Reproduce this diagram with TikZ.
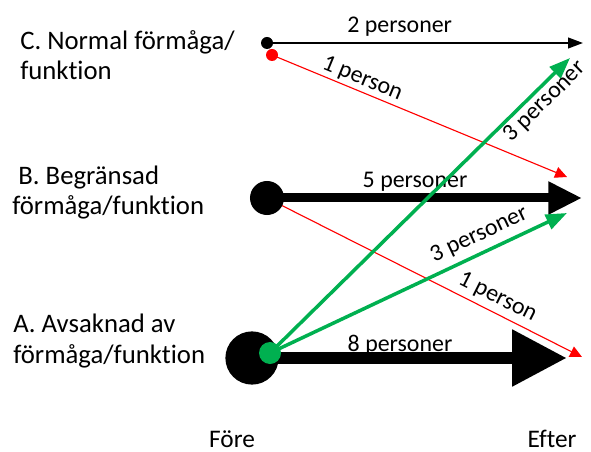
\documentclass[tikz,border=0pt]{standalone}
\usepackage{fontspec}
\setmainfont{Carlito}[Ligatures={NoCommon}]
\usetikzlibrary{arrows.meta}

\definecolor{ogreen}{RGB}{0,176,80}

\tikzset{
  lab/.style={font=\fontsize{19}{22}\selectfont, align=left, anchor=base west, inner sep=0pt},
  cnt/.style={font=\fontsize{17}{20}\selectfont, text=black, inner sep=1.5pt},
  dot/.style={circle, fill, inner sep=0pt},
}

\begin{document}
\begin{tikzpicture}[x=0.025cm, y=-0.025cm]
\useasboundingbox (0,0) rectangle (591,452);
% start points (Före)
\coordinate (c0) at (267,43);
\coordinate (r0) at (272,55);
\coordinate (b0) at (267,198);
\coordinate (a0) at (252,358);
\coordinate (g0) at (270,353);
% end points (Efter)
\coordinate (c1) at (583,43);
\coordinate (cr1) at (567,177);
\coordinate (b1) at (582,198);
\coordinate (br1) at (582,357);
\coordinate (a1) at (567,358);
\coordinate (gc1) at (570,58);
\coordinate (gb1) at (567,213);

\draw[line width=1.4pt, -{Triangle[length=10.5pt,width=7.5pt]}] (c0) -- node[cnt, anchor=base, pos=0.42, yshift=7.8pt] {2 personer} (c1);
\draw[line width=6.4pt, -{Triangle[length=24pt,width=22pt]}] (b0) -- node[cnt, anchor=base, pos=0.47, yshift=7.8pt] {5 personer} (b1);
\draw[line width=9.2pt, -{Triangle[length=39pt,width=38pt]}] (a0) -- node[cnt, anchor=base, pos=0.47, yshift=4.3pt] {8 personer} (a1);
\draw[red, line width=0.8pt, -{Triangle[length=8.5pt,width=8pt]}] (r0) -- node[cnt, sloped, above, pos=0.29] {1 person} (cr1);
\draw[red, line width=0.8pt, -{Triangle[length=8.5pt,width=8pt]}] (b0) -- node[cnt, sloped, above=2pt, pos=0.71] {1 person} (br1);

\node[dot, minimum size=0.3cm] (cdot) at (c0) {};
\node[dot, red, minimum size=0.3cm] (rdot) at (r0) {};
\node[dot, minimum size=0.85cm] (bdot) at (b0) {};
\node[dot, minimum size=1.33cm] (adot) at (a0) {};

\draw[ogreen, line width=2.5pt, -{Triangle[length=15pt,width=11pt]}] (g0) -- node[cnt, sloped, below, pos=0.885] {3 personer} (gc1);
\draw[ogreen, line width=2.5pt, -{Triangle[length=15pt,width=11pt]}] (g0) -- node[cnt, sloped, above=3pt, pos=0.73] {3 personer} (gb1);
\node[dot, ogreen, minimum size=0.55cm] (gdot) at (g0) {};

% levels
\node[lab] (labC) at (20,80) {C. Normal förmåga/\\funktion};
\node[lab] (labB) at (12,215) {\hspace*{0.23em}B. Begränsad\\förmåga/funktion};
\node[lab] (labA) at (13,363) {A. Avsaknad av\\förmåga/funktion};

\node[cnt, font=\fontsize{18}{20}\selectfont, anchor=base, inner sep=0pt] (fore) at (232,447) {Före};
\node[cnt, font=\fontsize{18}{20}\selectfont, anchor=base, inner sep=0pt] (efter) at (552,447) {Efter};
\end{tikzpicture}
\end{document}
